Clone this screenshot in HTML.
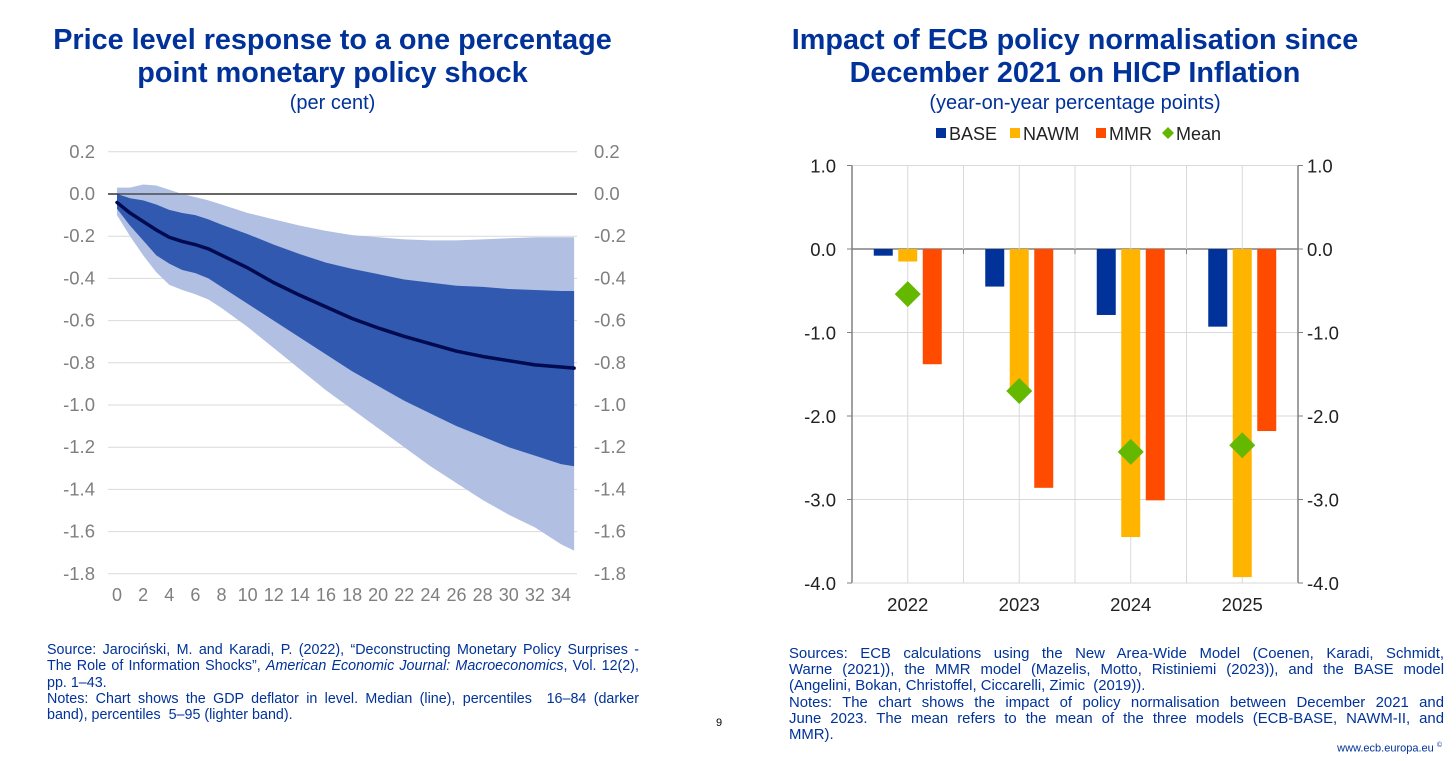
<!DOCTYPE html>
<html><head><meta charset="utf-8"><style>
body{margin:0;width:1456px;height:761px;background:#fff;overflow:hidden;font-family:"Liberation Sans",Arial,sans-serif;position:relative}
.t{position:absolute;color:#003299;text-align:center;font-weight:bold;font-size:28.8px;line-height:33px}
.s{position:absolute;color:#003299;text-align:center;font-size:20px}
.note{position:absolute;color:#003299;font-size:14.3px;line-height:16.3px;text-align:justify}
.jl{text-align:justify;text-align-last:justify;white-space:nowrap}
.ll{text-align:left;white-space:nowrap}
svg{position:absolute;left:0;top:0}
</style></head><body>
<div class="t" style="left:30px;width:605px;top:24px">Price level response to a one percentage point monetary policy shock</div>
<div class="s" style="left:30px;width:605px;top:92px">(per cent)</div>
<div class="t" style="left:760px;width:630px;top:24px">Impact of ECB policy normalisation since December 2021 on HICP Inflation</div>
<div class="s" style="left:760px;width:630px;top:92px">(year-on-year percentage points)</div>
<svg id="c" width="1456" height="761"></svg>
<div class="note" style="left:47px;top:642px;width:592px">Source: Jarociński, M. and Karadi, P. (2022), “Deconstructing Monetary Policy Surprises - The Role of Information Shocks”, <i>American Economic Journal: Macroeconomics</i>, Vol. 12(2), pp. 1–43.<br>Notes: Chart shows the GDP deflator in level. Median (line), percentiles&nbsp; 16–84 (darker band), percentiles&nbsp; 5–95 (lighter band).</div>
<div class="note" style="left:789px;top:646px;width:655px;line-height:16.2px;font-size:14.9px">
<div class="jl">Sources: ECB calculations using the New Area-Wide Model (Coenen, Karadi, Schmidt,</div>
<div class="jl">Warne (2021)), the MMR model (Mazelis, Motto, Ristiniemi (2023)), and the BASE model</div>
<div class="ll">(Angelini, Bokan, Christoffel, Ciccarelli, Zimic&nbsp; (2019)).</div>
<div class="jl">Notes: The chart shows the impact of policy normalisation between December 2021 and</div>
<div class="jl">June 2023. The mean refers to the mean of the three models (ECB-BASE, NAWM-II, and</div>
<div class="ll">MMR).</div>
</div>
<div style="position:absolute;left:716px;top:717px;font-size:11px">9</div>
<div style="position:absolute;right:14px;top:742px;font-size:11px;color:#003299">www.ecb.europa.eu <sup style="font-size:7px">©</sup></div>
<script>
const horizons=[0,1,2,3,4,5,6,7,8,10,12,14,16,18,20,22,24,26,28,30,32,34,35];
const median=[-0.04,-0.09,-0.13,-0.17,-0.205,-0.225,-0.24,-0.26,-0.29,-0.35,-0.42,-0.48,-0.535,-0.59,-0.635,-0.675,-0.71,-0.745,-0.77,-0.79,-0.81,-0.82,-0.825];
const p84=[0,-0.02,-0.03,-0.05,-0.075,-0.09,-0.1,-0.12,-0.145,-0.19,-0.24,-0.285,-0.325,-0.355,-0.38,-0.405,-0.42,-0.435,-0.44,-0.45,-0.455,-0.46,-0.46];
const p16=[-0.07,-0.15,-0.22,-0.29,-0.33,-0.36,-0.375,-0.4,-0.44,-0.52,-0.6,-0.68,-0.76,-0.84,-0.91,-0.98,-1.04,-1.1,-1.15,-1.2,-1.24,-1.28,-1.29];
const p95=[0.03,0.03,0.045,0.04,0.02,0,-0.015,-0.03,-0.05,-0.09,-0.12,-0.15,-0.175,-0.195,-0.205,-0.215,-0.22,-0.22,-0.215,-0.21,-0.205,-0.205,-0.205];
const p5=[-0.1,-0.2,-0.29,-0.37,-0.43,-0.455,-0.475,-0.5,-0.54,-0.63,-0.73,-0.83,-0.93,-1.02,-1.11,-1.2,-1.29,-1.37,-1.45,-1.52,-1.58,-1.66,-1.69];
const leftTicks=[0.2,0,-0.2,-0.4,-0.6,-0.8,-1.0,-1.2,-1.4,-1.6,-1.8];
const xTicks=[0,2,4,6,8,10,12,14,16,18,20,22,24,26,28,30,32,34];
const years=['2022','2023','2024','2025'];
const base=[-0.08,-0.45,-0.79,-0.93];
const nawm=[-0.15,-1.7,-3.45,-3.93];
const mmr=[-1.38,-2.86,-3.01,-2.18];
const mean=[-0.54,-1.70,-2.43,-2.35];
const rightTicks=[1,0,-1,-2,-3,-4];

const NS='http://www.w3.org/2000/svg',svg=document.getElementById('c');
function mk(t,a,p){const e=document.createElementNS(NS,t);for(const k in a)e.setAttribute(k,a[k]);(p||svg).appendChild(e);return e;}
// left chart
const lx=t=>117+t*13.06, ly=v=>194-v*211;
leftTicks.forEach(v=>{
 const g=mk('line',{x1:108,x2:577,y1:ly(v),y2:ly(v),stroke:v===0?'#000':'#d9d9d9','stroke-width':v===0?1.2:1});
 
 const s=v.toFixed(1);
 const a=mk('text',{x:95,y:ly(v)+6,'text-anchor':'end','font-size':18.5,fill:'#7f7f7f'});a.textContent=s;
 
 const b=mk('text',{x:594,y:ly(v)+6,'font-size':18.5,fill:'#7f7f7f'});b.textContent=s;
 
});
function band(up,lo,fill,name){
 let d='M'+horizons.map((t,i)=>lx(t)+','+ly(up[i])).join('L');
 for(let i=horizons.length-1;i>=0;i--)d+='L'+lx(horizons[i])+','+ly(lo[i]);
 const p=mk('path',{d:d+'Z',fill});
}
band(p95,p5,'#b0bfe2','band-5-95');
band(p84,p16,'#3159b0','band-16-84');
mk('line',{x1:108,x2:577,y1:ly(0),y2:ly(0),stroke:'#333','stroke-width':1.2});
const ml=mk('path',{d:'M'+horizons.map((t,i)=>lx(t)+','+ly(median[i])).join('L'),fill:'none',stroke:'#000a50','stroke-width':3.5,'stroke-linejoin':'round','stroke-linecap':'round'});

xTicks.forEach(t=>{const e=mk('text',{x:lx(t),y:601,'text-anchor':'middle','font-size':18,fill:'#7f7f7f'});e.textContent=t;
 });
// right chart
const rL=852,rR=1298,cw=(rR-rL)/4, ry=v=>249-v*83.5;
rightTicks.forEach(v=>{
 const g=mk('line',{x1:rL,x2:rR,y1:ry(v),y2:ry(v),stroke:v===0?'#808080':'#d9d9d9','stroke-width':v===0?1.5:1});
 
 mk('line',{x1:rL-5,x2:rL,y1:ry(v),y2:ry(v),stroke:'#808080'});mk('line',{x1:rR,x2:rR+5,y1:ry(v),y2:ry(v),stroke:'#808080'});
 const s=v.toFixed(1);
 const a=mk('text',{x:836,y:ry(v)+7,'text-anchor':'end','font-size':18.5,fill:'#222'});a.textContent=s;
 
 const b=mk('text',{x:1307,y:ry(v)+7,'font-size':18.5,fill:'#222'});b.textContent=s;
 
});
for(let i=0;i<=4;i++){if(i>0&&i<4)mk('line',{x1:rL+i*cw,x2:rL+i*cw,y1:ry(1),y2:ry(-4),stroke:'#d9d9d9'});mk('line',{x1:rL+i*cw,x2:rL+i*cw,y1:ry(0),y2:ry(0)+5,stroke:'#808080'});}
years.forEach((y,i)=>{const c=rL+cw*(i+0.5);mk('line',{x1:c,x2:c,y1:ry(1),y2:ry(-4),stroke:'#d9d9d9'});});
mk('line',{x1:rL,x2:rL,y1:ry(1),y2:ry(-4),stroke:'#808080','stroke-width':1.5});
mk('line',{x1:rR,x2:rR,y1:ry(1),y2:ry(-4),stroke:'#808080','stroke-width':1.5});
mk('line',{x1:rL,x2:rR,y1:ry(-4),y2:ry(-4),stroke:'#d9d9d9'});
const series=[[base,'#003299',-24.5,'bar-base'],[nawm,'#ffb400',0,'bar-nawm'],[mmr,'#ff4b00',24.5,'bar-mmr']];
years.forEach((y,i)=>{
 const c=rL+cw*(i+0.5);
 series.forEach(([arr,col,off,nm])=>{const v=arr[i];const r=mk('rect',{x:c+off-9.5,y:ry(0),width:19,height:ry(v)-ry(0),fill:col});
  });
 const my=ry(mean[i]);const d=mk('path',{d:`M${c},${my-13}L${c+13},${my}L${c},${my+13}L${c-13},${my}Z`,fill:'#65b800'});
 
 const t=mk('text',{x:c,y:611,'text-anchor':'middle','font-size':18.5,fill:'#222'});t.textContent=y;
 
});
// legend
const leg=[['BASE','#003299',936,'rect'],['NAWM','#ffb400',1010,'rect'],['MMR','#ff4b00',1096,'rect'],['Mean','#65b800',1163,'dia']];
leg.forEach(([n,c,x,sh])=>{
 const g=mk('g',{});
 if(sh==='rect')mk('rect',{x:x,y:128,width:10,height:10,fill:c},g);
 else mk('path',{d:`M${x+5},127L${x+11},133L${x+5},139L${x-1},133Z`,fill:c},g);
 const t=mk('text',{x:x+13,y:140,'font-size':18,fill:'#222'},g);t.textContent=n;
});
</script>
</body></html>
